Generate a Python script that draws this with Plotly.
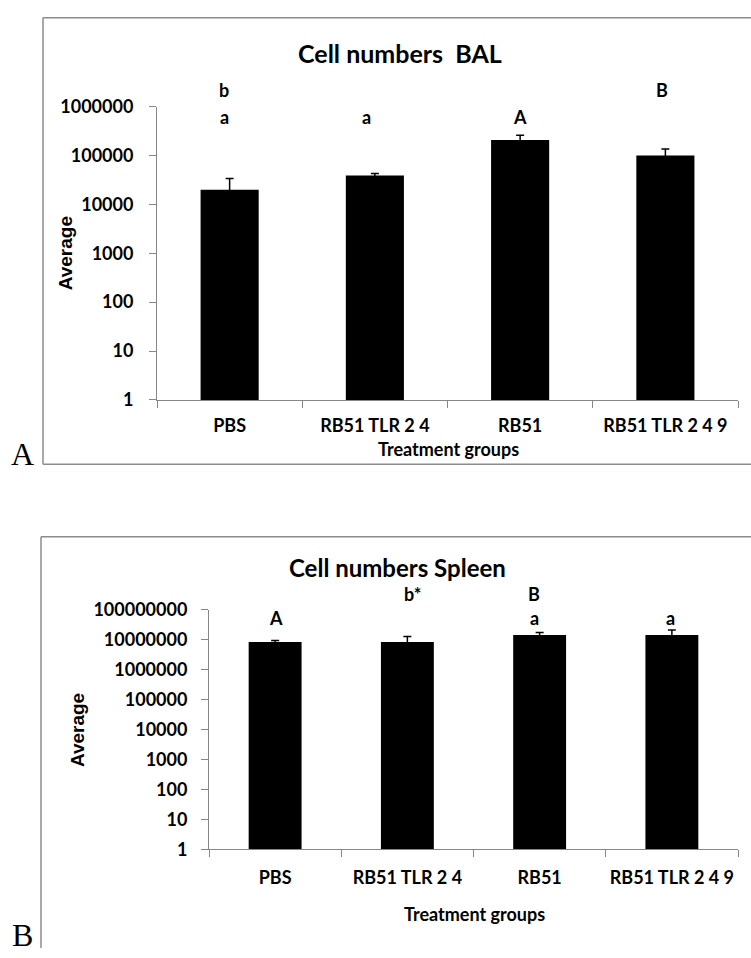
import plotly.graph_objects as go

W, H = 751, 958

groups = ["PBS", "RB51 TLR 2 4", "RB51", "RB51 TLR 2 4 9"]

bal_avg = [20000, 39000, 210000, 100000]
bal_err = [14000, 4000, 50000, 37000]
bal_letters_top = ["b", "", "", "B"]
bal_letters_low = ["a", "a", "A", ""]

spl_avg = [8500000, 8500000, 14500000, 14500000]
spl_err = [1000000, 4400000, 3000000, 7000000]
spl_letters_top = ["", "b*", "B", ""]
spl_letters_low = ["A", "", "a", "a"]

bal_ticks = [1, 10, 100, 1000, 10000, 100000, 1000000]
spl_ticks = [1, 10, 100, 1000, 10000, 100000, 1000000, 10000000, 100000000]

CAL = "Lato"
ARIAL = "Liberation Sans"
SERIF = "Liberation Serif"
AXC = "#868686"
BORDER = "#8c8c8c"


def px(x):
    return x / W


def py(y):
    return 1 - y / H


fig = go.Figure()

fig.add_trace(go.Bar(
    x=groups, y=bal_avg, marker=dict(color="black", line=dict(width=0)),
    width=0.4, xaxis="x", yaxis="y",
    error_y=dict(type="data", array=bal_err, visible=True, color="black",
                 thickness=1.5, width=4),
    showlegend=False,
))
fig.add_trace(go.Bar(
    x=groups, y=spl_avg, marker=dict(color="black", line=dict(width=0)),
    width=0.4, xaxis="x2", yaxis="y2",
    error_y=dict(type="data", array=spl_err, visible=True, color="black",
                 thickness=1.5, width=4),
    showlegend=False,
))

tickfont = dict(family=CAL, size=18, color="black", weight="bold")

fig.update_layout(
    width=W, height=H,
    margin=dict(l=0, r=0, t=0, b=0),
    paper_bgcolor="white", plot_bgcolor="white",
    xaxis=dict(domain=[px(157), px(738)], anchor="y", showline=True,
               linecolor=AXC, linewidth=1, ticks="outside", tickson="boundaries",
               ticklen=7, tickcolor=AXC, tickfont=tickfont, showgrid=False,
               ticklabelstandoff=10, tickangle=0),
    yaxis=dict(domain=[py(397), py(97)], anchor="x", type="log", range=[0, 6],
               tickvals=bal_ticks, ticktext=[str(v) for v in bal_ticks],
               showline=True, linecolor=AXC, linewidth=1, ticks="outside",
               ticklen=7, tickcolor=AXC, tickfont=tickfont, showgrid=False,
               ticklabelstandoff=12, zeroline=False),
    xaxis2=dict(domain=[px(209), px(738)], anchor="y2", showline=True,
                linecolor=AXC, linewidth=1, ticks="outside", tickson="boundaries",
                ticklen=7, tickcolor=AXC, tickfont=tickfont, showgrid=False,
                ticklabelstandoff=12, tickangle=0),
    yaxis2=dict(domain=[py(857), py(612)], anchor="x2", type="log", range=[0, 8],
                tickvals=spl_ticks, ticktext=[str(v) for v in spl_ticks],
                showline=True, linecolor=AXC, linewidth=1, ticks="outside",
                ticklen=7, tickcolor=AXC, tickfont=tickfont, showgrid=False,
                ticklabelstandoff=10, zeroline=False),
    bargap=0.6,
)

# panel borders
shapes = [
    dict(type="line", xref="paper", yref="paper", x0=px(43), x1=1.0, y0=py(6), y1=py(6)),
    dict(type="line", xref="paper", yref="paper", x0=px(43), x1=px(43), y0=py(6), y1=py(463)),
    dict(type="line", xref="paper", yref="paper", x0=px(43), x1=1.0, y0=py(463), y1=py(463)),
    dict(type="line", xref="paper", yref="paper", x0=px(41), x1=1.0, y0=py(537), y1=py(537)),
    dict(type="line", xref="paper", yref="paper", x0=px(41), x1=px(41), y0=py(537), y1=0),
]
for s in shapes:
    s["line"] = dict(color=BORDER, width=1.5)
fig.update_layout(shapes=shapes)

anns = []


def txt(x, y, t, size=18, family=CAL, angle=0, bold=True):
    anns.append(dict(xref="paper", yref="paper", x=px(x), y=py(y), text=t,
                     showarrow=False, xanchor="center", yanchor="middle",
                     textangle=angle,
                     font=dict(family=family, size=size, color="black",
                               weight="bold" if bold else "normal")))


# panel A texts
txt(400, 42, "Cell numbers\u00a0 BAL", size=25)
txt(448, 447, "Treatment groups", size=18)
txt(65, 247, "Average", size=19, family=ARIAL, angle=-90)
txt(22, 452, "A", size=32, family=SERIF, bold=False)
bal_x = [224, 366, 520, 662]
for i in range(4):
    if bal_letters_top[i]:
        txt(bal_x[i], 80, bal_letters_top[i])
    if bal_letters_low[i]:
        txt(bal_x[i], 107, bal_letters_low[i])

# panel B texts
txt(397, 569, "Cell numbers Spleen", size=24)
txt(474, 923, "Treatment groups", size=18)
txt(77, 735, "Average", size=19, family=ARIAL, angle=-90)
txt(22, 945, "B", size=32, family=SERIF, bold=False)
spl_x = [276, 412, 534, 670]
for i in range(4):
    if spl_letters_top[i]:
        txt(spl_x[i], 596, spl_letters_top[i])
    if spl_letters_low[i]:
        txt(spl_x[i], 620, spl_letters_low[i])

fig.update_layout(annotations=anns)

fig.write_html("out.html")
